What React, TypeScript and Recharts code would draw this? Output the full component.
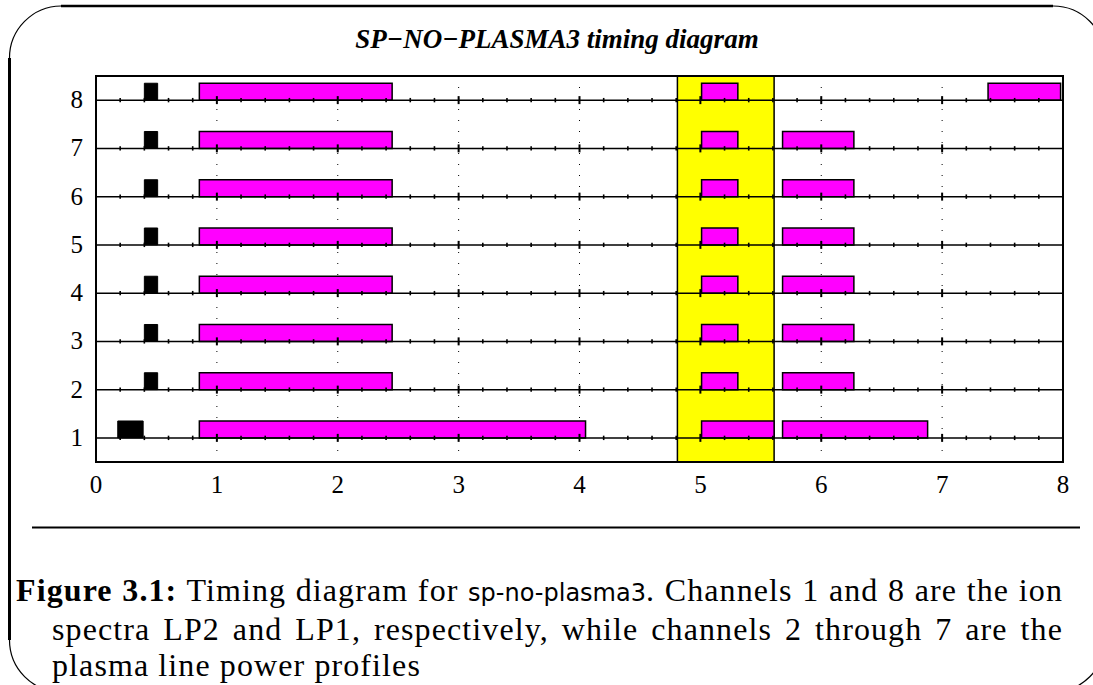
import React from 'react';
import { ComposedChart, XAxis, YAxis, CartesianGrid, ReferenceArea, ReferenceLine, Scatter } from 'recharts';

// channel numbers, bottom to top
const channels = [1, 2, 3, 4, 5, 6, 7, 8];
const xTicks = [0, 1, 2, 3, 4, 5, 6, 7, 8];

// highlighted window (yellow)
const windowStart = 4.81;
const windowEnd = 5.61;

// black pulse per channel [channel, start, end]
const blackPulses: [number, number, number][] = [
  [1, 0.18, 0.39],
  [2, 0.4, 0.51],
  [3, 0.4, 0.51],
  [4, 0.4, 0.51],
  [5, 0.4, 0.51],
  [6, 0.4, 0.51],
  [7, 0.4, 0.51],
  [8, 0.4, 0.51],
];

// magenta pulses per channel [channel, start, end]
const magentaPulses: [number, number, number][] = [
  [1, 0.855, 4.05], [1, 5.01, 5.61], [1, 5.68, 6.88],
  [2, 0.855, 2.45], [2, 5.01, 5.31], [2, 5.68, 6.27],
  [3, 0.855, 2.45], [3, 5.01, 5.31], [3, 5.68, 6.27],
  [4, 0.855, 2.45], [4, 5.01, 5.31], [4, 5.68, 6.27],
  [5, 0.855, 2.45], [5, 5.01, 5.31], [5, 5.68, 6.27],
  [6, 0.855, 2.45], [6, 5.01, 5.31], [6, 5.68, 6.27],
  [7, 0.855, 2.45], [7, 5.01, 5.31], [7, 5.68, 6.27],
  [8, 0.855, 2.45], [8, 5.01, 5.31], [8, 7.38, 7.98],
];

const PULSE_H = 0.35;
const MINOR_STEP = 0.2;

// small tick marks along every channel line (axis ticks, not data)
const tickMarks = channels.flatMap(ch =>
  Array.from({ length: 41 }, (_, i) => {
    const x = Math.round(i * MINOR_STEP * 10) / 10;
    return { x, y: ch, major: Number.isInteger(x) };
  })
);

const serif = '"Liberation Serif", "DejaVu Serif", serif';

const TickMark = (props: any) => {
  const { cx, cy, payload } = props;
  if (cx == null || cy == null) return null;
  const h = payload.major ? 4 : 2.2;
  return <line x1={cx} x2={cx} y1={cy - h} y2={cy + h} stroke="#000" strokeWidth={payload.major ? 2 : 1.6} />;
};

const XTick = (props: any) => (
  <text x={props.x} y={props.y + 25} textAnchor="middle" fontFamily={serif} fontSize={25} fill="#000">
    {props.payload.value}
  </text>
);

const YTick = (props: any) => (
  <text x={props.x} y={props.y + 8} textAnchor="end" fontFamily={serif} fontSize={25} fill="#000">
    {props.payload.value}
  </text>
);

export default function App() {
  return (
    <div style={{ position: 'absolute', left: 0, top: 0, width: 1093, height: 685, background: '#fff', overflow: 'hidden' }}>
      <div style={{ position: 'absolute', left: 0, top: 24, width: 1114, textAlign: 'center', fontFamily: serif, fontWeight: 'bold', fontStyle: 'italic', fontSize: 27 }}>
        SP−NO−PLASMA3 timing diagram
      </div>

      <div style={{ position: 'absolute', left: 0, top: 0 }}>
        <ComposedChart width={1093} height={520} margin={{ top: 76, right: 30, bottom: 0, left: 0 }}>
          <XAxis dataKey="x" type="number" domain={[0, 8]} ticks={xTicks} allowDataOverflow
            axisLine={false} tickLine={false} tickMargin={0} interval={0}
            tick={<XTick />} height={58} />
          <YAxis dataKey="y" type="number" domain={[0.5, 8.5]} ticks={channels} allowDataOverflow
            axisLine={false} tickLine={false} tickMargin={7} interval={0}
            tick={<YTick />} width={96} />

          <ReferenceArea x1={windowStart} x2={windowEnd} y1={0.5} y2={8.5} fill="#ffff00" fillOpacity={1} stroke="#000" strokeWidth={1.5} />

          <CartesianGrid horizontal={false} vertical stroke="#000" strokeDasharray="1 10" strokeWidth={1} />

          {channels.map(ch => (
            <ReferenceLine key={'l' + ch} y={ch} stroke="#000" strokeWidth={1.5} />
          ))}

          <Scatter data={tickMarks} dataKey="y" shape={<TickMark />} isAnimationActive={false} />

          {blackPulses.map(([ch, a, b], i) => (
            <ReferenceArea key={'b' + i} x1={a} x2={b} y1={ch} y2={ch + PULSE_H} fill="#000" fillOpacity={1} stroke="#000" strokeWidth={1} />
          ))}
          {magentaPulses.map(([ch, a, b], i) => (
            <ReferenceArea key={'m' + i} x1={a} x2={b} y1={ch} y2={ch + PULSE_H} fill="#ff00ff" fillOpacity={1} stroke="#000" strokeWidth={1.5} />
          ))}

          <ReferenceArea x1={0} x2={8} y1={0.5} y2={8.5} fill="none" fillOpacity={0} stroke="#000" strokeWidth={2} />
        </ComposedChart>
      </div>

      <svg width={1093} height={685} style={{ position: 'absolute', left: 0, top: 0, pointerEvents: 'none' }}>
        <path d="M 9.5 58 A 52 52 0 0 1 61 6 L 1053 6 A 52 52 0 0 1 1105 58 L 1105 640 A 52 52 0 0 1 1053 692 L 61 692 A 52 52 0 0 1 9.5 640 Z"
          fill="none" stroke="#000" strokeWidth={1.2} />
        <line x1={61} x2={1053} y1={6} y2={6} stroke="#000" strokeWidth={2.5} />
        <line x1={9.5} x2={9.5} y1={58} y2={640} stroke="#000" strokeWidth={3} />
        <line x1={32} x2={1080} y1={527.5} y2={527.5} stroke="#000" strokeWidth={2} />
      </svg>

      <div style={{ position: 'absolute', left: 16, top: 572, width: 1047, fontFamily: serif, fontSize: 32, letterSpacing: 1.1, lineHeight: '36px', color: '#000' }}>
        <div style={{ textAlign: 'justify', textAlignLast: 'justify', whiteSpace: 'nowrap' }}>
          <b>Figure 3.1:</b> Timing diagram for <span style={{ fontFamily: '"DejaVu Sans", sans-serif', fontSize: 24, letterSpacing: 0 }}>sp-no-plasma3</span>. Channels 1 and 8 are the ion
        </div>
        <div style={{ paddingLeft: 36, textAlign: 'justify', textAlignLast: 'justify', whiteSpace: 'nowrap' }}>
          spectra LP2 and LP1, respectively, while channels 2 through 7 are the
        </div>
        <div style={{ paddingLeft: 36 }}>
          plasma line power profiles
        </div>
      </div>
    </div>
  );
}
